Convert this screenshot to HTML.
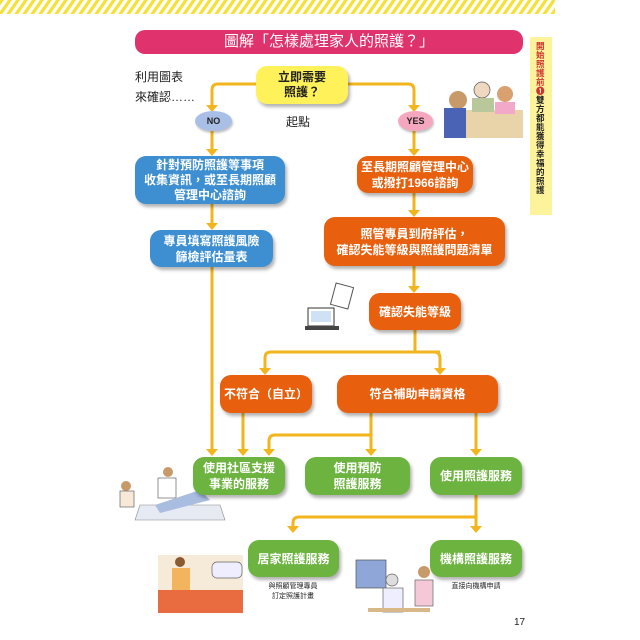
<!DOCTYPE html>
<html><head><meta charset="utf-8"><style>
body{margin:0;width:640px;height:640px;background:#fff;position:relative;overflow:hidden;font-family:"Liberation Sans","Noto Sans CJK TC",sans-serif;}
.b{position:absolute;display:flex;align-items:center;justify-content:center;text-align:center;color:#fff;font-weight:bold;border-radius:11px;box-shadow:2px 3px 3px rgba(0,0,0,0.3);font-size:12px;line-height:16px;}
.bl{background:#3d8fd1}.or{background:#e8600e}.gr{background:#6db33f}
.t{position:absolute;font-size:12px;color:#222}
svg{position:absolute;left:0;top:0}
</style></head><body>
<svg width="640" height="640">
<defs><pattern id="st" width="8" height="14" patternUnits="userSpaceOnUse" patternTransform="skewX(-35)"><rect width="4" height="14" fill="#f3e23a"/></pattern></defs>
<rect x="0" y="0" width="555" height="14" fill="url(#st)"/>
<g stroke="#f2b51d" stroke-width="3" fill="none">
<path d="M256 84 H218 Q212 84 212 90 V106"/><path d="M348 84 H408 Q414 84 414 90 V106"/>
<path d="M212 131 V151"/><path d="M212 204 V225"/><path d="M212 267 V451"/>
<path d="M414 131 V151"/><path d="M414 193 V212"/><path d="M414 266 V288"/>
<path d="M415 330 V352"/><path d="M440 352 H271 Q265 352 265 358 V370"/><path d="M415 352 H434 Q440 352 440 358 V370"/>
<path d="M243 413 V451"/><path d="M371 413 V451"/><path d="M371 435 H275 Q269 435 269 441 V451"/><path d="M476 413 V451"/>
<path d="M476 495 V527"/><path d="M476 517 H299 Q293 517 293 523 V527"/>
</g>
<g fill="#f2b51d">
<path d="M206 105 L218 105 L212 112Z"/><path d="M408 105 L420 105 L414 112Z"/>
<path d="M206 149 L218 149 L212 156Z"/><path d="M206 223 L218 223 L212 230Z"/><path d="M206 449 L218 449 L212 456Z"/>
<path d="M408 149 L420 149 L414 156Z"/><path d="M408 210 L420 210 L414 217Z"/><path d="M408 286 L420 286 L414 293Z"/>
<path d="M259 368 L271 368 L265 375Z"/><path d="M434 368 L446 368 L440 375Z"/>
<path d="M237 449 L249 449 L243 456Z"/><path d="M263 449 L275 449 L269 456Z"/><path d="M365 449 L377 449 L371 456Z"/><path d="M470 449 L482 449 L476 456Z"/>
<path d="M287 526 L299 526 L293 533Z"/><path d="M470 526 L482 526 L476 533Z"/>
</g>
<rect x="135" y="30" width="388" height="24" rx="10" fill="#e0336e"/>
<rect x="530" y="37" width="22" height="178" fill="#fdf39a"/>
<!-- illustrations -->
<rect x="465" y="110" width="58" height="28" fill="#e9d3a8"/>
<circle cx="458" cy="100" r="9" fill="#c89a6a"/><rect x="444" y="108" width="22" height="30" fill="#4a63b5"/>
<circle cx="482" cy="90" r="8" fill="#f0d8c0" stroke="#555" stroke-width=".7"/><rect x="472" y="98" width="22" height="14" fill="#b9c89a"/>
<circle cx="505" cy="94" r="8" fill="#d9a070"/><rect x="495" y="102" width="20" height="12" fill="#f2a8c8"/>
<rect x="308" y="308" width="26" height="18" fill="#fff" stroke="#333"/><rect x="311" y="311" width="20" height="11" fill="#cfe2f5"/><rect x="305" y="326" width="34" height="4" fill="#444"/>
<rect x="333" y="285" width="18" height="22" fill="#fff" stroke="#555" transform="rotate(15 342 296)"/>
<polygon points="140,505 220,505 225,520 135,520" fill="#e6ebf3" stroke="#888" stroke-width=".6"/>
<circle cx="168" cy="472" r="5" fill="#c89a6a"/><rect x="158" y="478" width="18" height="20" fill="#fff" stroke="#666" stroke-width=".7"/>
<circle cx="126" cy="486" r="5" fill="#c89a6a"/><rect x="120" y="491" width="14" height="16" fill="#f8e8d8" stroke="#666" stroke-width=".7"/>
<path d="M155 505 L200 490 L210 500 L160 513Z" fill="#a9bde0"/>
<rect x="158" y="555" width="85" height="58" fill="#f6ebd8"/><rect x="158" y="590" width="85" height="23" fill="#e86c40"/>
<circle cx="180" cy="562" r="5" fill="#8a5a30"/><rect x="172" y="568" width="18" height="22" fill="#f2b55d"/>
<rect x="212" y="562" width="30" height="16" rx="5" fill="#eef" stroke="#666" stroke-width=".7"/>
<rect x="356" y="560" width="30" height="28" fill="#8fa6d8" stroke="#555" stroke-width=".7"/>
<circle cx="392" cy="580" r="6" fill="#ddd" stroke="#666" stroke-width=".7"/><rect x="383" y="588" width="20" height="24" fill="#eef" stroke="#666" stroke-width=".7"/>
<circle cx="424" cy="572" r="6" fill="#c89a6a"/><rect x="415" y="580" width="18" height="26" fill="#f5c8d8" stroke="#666" stroke-width=".7"/>
<rect x="368" y="608" width="62" height="4" fill="#d8b888"/>
</svg>
<div class="t" style="left:135px;top:30px;width:388px;height:24px;line-height:24px;text-align:center;color:#fff;font-size:15px">圖解「怎樣處理家人的照護？」</div>
<div class="t" style="left:536px;top:42px;width:10px;font-size:8.5px;line-height:9px;color:#222;font-weight:bold"><span style="color:#d03030">開始照護前❶</span>雙方都能獲得幸福的照護</div>
<div class="t" style="left:135px;top:67px;line-height:20px">利用圖表<br>來確認……</div>
<div class="b" style="left:256px;top:66px;width:92px;height:38px;background:#fff15a;color:#222;font-size:12px;line-height:15px">立即需要<br>照護？</div>
<div class="b" style="left:195px;top:111px;width:37px;height:20px;border-radius:50%;background:#a9bfe6;color:#222;font-size:9px;box-shadow:1px 2px 2px rgba(0,0,0,.25)">NO</div>
<div class="b" style="left:398px;top:111px;width:35px;height:20px;border-radius:50%;background:#f5a7bf;color:#222;font-size:9px;box-shadow:1px 2px 2px rgba(0,0,0,.25)">YES</div>
<div class="t" style="left:286px;top:113px;font-size:12px">起點</div>
<div class="b bl" style="left:135px;top:156px;width:150px;height:48px;line-height:15px">針對預防照護等事項<br>收集資訊，或至長期照顧<br>管理中心諮詢</div>
<div class="b bl" style="left:150px;top:230px;width:123px;height:37px">專員填寫照護風險<br>篩檢評估量表</div>
<div class="b or" style="left:357px;top:156px;width:116px;height:37px">至長期照顧管理中心<br>或撥打1966諮詢</div>
<div class="b or" style="left:324px;top:217px;width:181px;height:49px">照管專員到府評估，<br>確認失能等級與照護問題清單</div>
<div class="b or" style="left:369px;top:293px;width:92px;height:37px">確認失能等級</div>
<div class="b or" style="left:220px;top:375px;width:92px;height:38px">不符合（自立）</div>
<div class="b or" style="left:337px;top:375px;width:161px;height:38px">符合補助申請資格</div>
<div class="b gr" style="left:193px;top:457px;width:92px;height:38px">使用社區支援<br>事業的服務</div>
<div class="b gr" style="left:305px;top:457px;width:105px;height:38px">使用預防<br>照護服務</div>
<div class="b gr" style="left:430px;top:457px;width:92px;height:38px">使用照護服務</div>
<div class="b gr" style="left:248px;top:540px;width:91px;height:37px">居家照護服務</div>
<div class="b gr" style="left:430px;top:540px;width:92px;height:37px">機構照護服務</div>
<div class="t" style="left:253px;top:582px;width:80px;text-align:center;font-size:7px;line-height:10px">與照顧管理專員<br>訂定照護計畫</div>
<div class="t" style="left:436px;top:582px;width:80px;text-align:center;font-size:7px;line-height:10px">直接向機構申請</div>
<div class="t" style="left:514px;top:617px;font-size:10px">17</div>
</body></html>
